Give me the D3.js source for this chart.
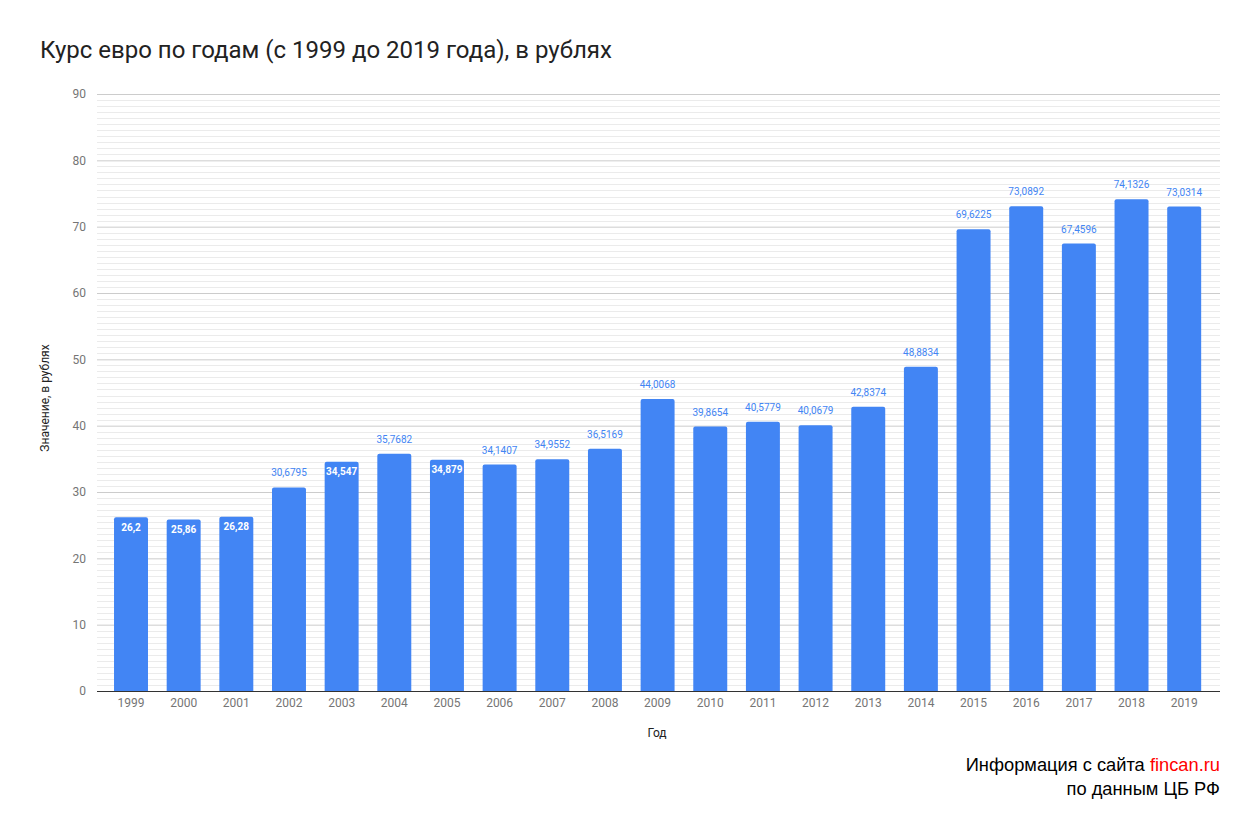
<!DOCTYPE html>
<html><head><meta charset="utf-8">
<script src="https://cdn.jsdelivr.net/npm/d3@7"></script>
<style>body{margin:0;background:#fff;}svg{display:block;}</style>
</head><body>
<script>
const years = ["1999","2000","2001","2002","2003","2004","2005","2006","2007","2008","2009","2010","2011","2012","2013","2014","2015","2016","2017","2018","2019"];
const values = [26.2,25.86,26.28,30.6795,34.547,35.7682,34.879,34.1407,34.9552,36.5169,44.0068,39.8654,40.5779,40.0679,42.8374,48.8834,69.6225,73.0892,67.4596,74.1326,73.0314];
const yTicks = [0,10,20,30,40,50,60,70,80,90];
const titleText = "Курс евро по годам (с 1999 до 2019 года), в рублях";
const xTitle = "Год";
const yTitle = "Значение, в рублях";

const W = 1259, H = 818;
const svg = d3.select("body").append("svg").attr("width", W).attr("height", H);
const plotTop = 94, plotBottom = 691, gridL = 97, gridR = 1220;
const insideYears = new Set(["1999","2000","2001","2003","2005"]);

const y = d3.scaleLinear().domain([0, 90]).range([plotBottom, plotTop]);
const x = d3.scaleBand().domain(years).range([104.7, 1210.5]).paddingInner(0.355).paddingOuter(0.177);

// minor gridlines
const minor = [];
for (let i = 0; i < 9; i++) for (let k = 1; k <= 10; k++) minor.push(i * 10 + k * 10 / 11);
svg.append("g").selectAll("line").data(minor).join("line")
  .attr("x1", gridL).attr("x2", gridR)
  .attr("y1", d => Math.round(y(d)) + 0.5).attr("y2", d => Math.round(y(d)) + 0.5)
  .attr("stroke", "#ebebeb").attr("stroke-width", 1);

// major gridlines via axis
const yAxis = d3.axisLeft(y).tickValues(yTicks).tickSize(-(gridR - gridL)).tickPadding(8).tickFormat(d3.format("d"));
const gy = svg.append("g").attr("transform", `translate(${gridL},0)`).call(yAxis);
gy.select(".domain").remove();
gy.selectAll(".tick line").attr("stroke", "#cccccc");
gy.selectAll(".tick text").attr("fill", "#757575").style("font", "12px Roboto").attr("x", -11);

// bars
svg.append("g").selectAll("path").data(years).join("path")
  .attr("d", (d, i) => {
    const x0 = x(d), w = x.bandwidth(), yt = y(values[i]), r = 2;
    return `M${x0},${plotBottom}V${yt + r}Q${x0},${yt} ${x0 + r},${yt}H${x0 + w - r}Q${x0 + w},${yt} ${x0 + w},${yt + r}V${plotBottom}Z`;
  })
  .attr("fill", "#4285f4");

// baseline
svg.append("line").attr("x1", gridL).attr("x2", gridR).attr("y1", plotBottom + 0.5).attr("y2", plotBottom + 0.5)
  .attr("stroke", "#333333").attr("stroke-width", 1);

// x axis labels
const xAxis = d3.axisBottom(x).tickSize(0).tickPadding(7);
const gx = svg.append("g").attr("transform", `translate(0,${plotBottom})`).call(xAxis);
gx.select(".domain").remove();
gx.selectAll(".tick text").attr("fill", "#757575").style("font", "12px Roboto");

// value labels
const fmt = v => String(v).replace(".", ",");
svg.append("g").selectAll("text").data(years).join("text")
  .attr("x", d => x(d) + x.bandwidth() / 2)
  .attr("y", (d, i) => insideYears.has(d) ? y(values[i]) + 13.5 : y(values[i]) - 11)
  .attr("text-anchor", "middle")
  .attr("fill", d => insideYears.has(d) ? "#ffffff" : "#4285f4")
  .style("font", d => insideYears.has(d) ? "bold 10px Roboto" : "10px Roboto")
  .text((d, i) => fmt(values[i]));

// titles
svg.append("text").attr("x", 40).attr("y", 58).attr("fill", "#222").style("font", "24px Roboto").text(titleText);
svg.append("text").attr("x", 657).attr("y", 737).attr("text-anchor", "middle").attr("fill", "#222").style("font", "12px Roboto").text(xTitle);
svg.append("text").attr("transform", "translate(49,398) rotate(-90)").attr("text-anchor", "middle").attr("fill", "#222").style("font", "12px Roboto").text(yTitle);

// footer
const f1 = svg.append("text").attr("x", 1220).attr("y", 771).attr("text-anchor", "end").style("font", "18.3px 'Liberation Sans', Arial").attr("fill", "#000");
f1.append("tspan").text("Информация с сайта ");
f1.append("tspan").attr("fill", "#ff0000").text("fincan.ru");
svg.append("text").attr("x", 1220).attr("y", 795).attr("text-anchor", "end").style("font", "18.3px 'Liberation Sans', Arial").attr("fill", "#000").text("по данным ЦБ РФ");
</script>
</body></html>
